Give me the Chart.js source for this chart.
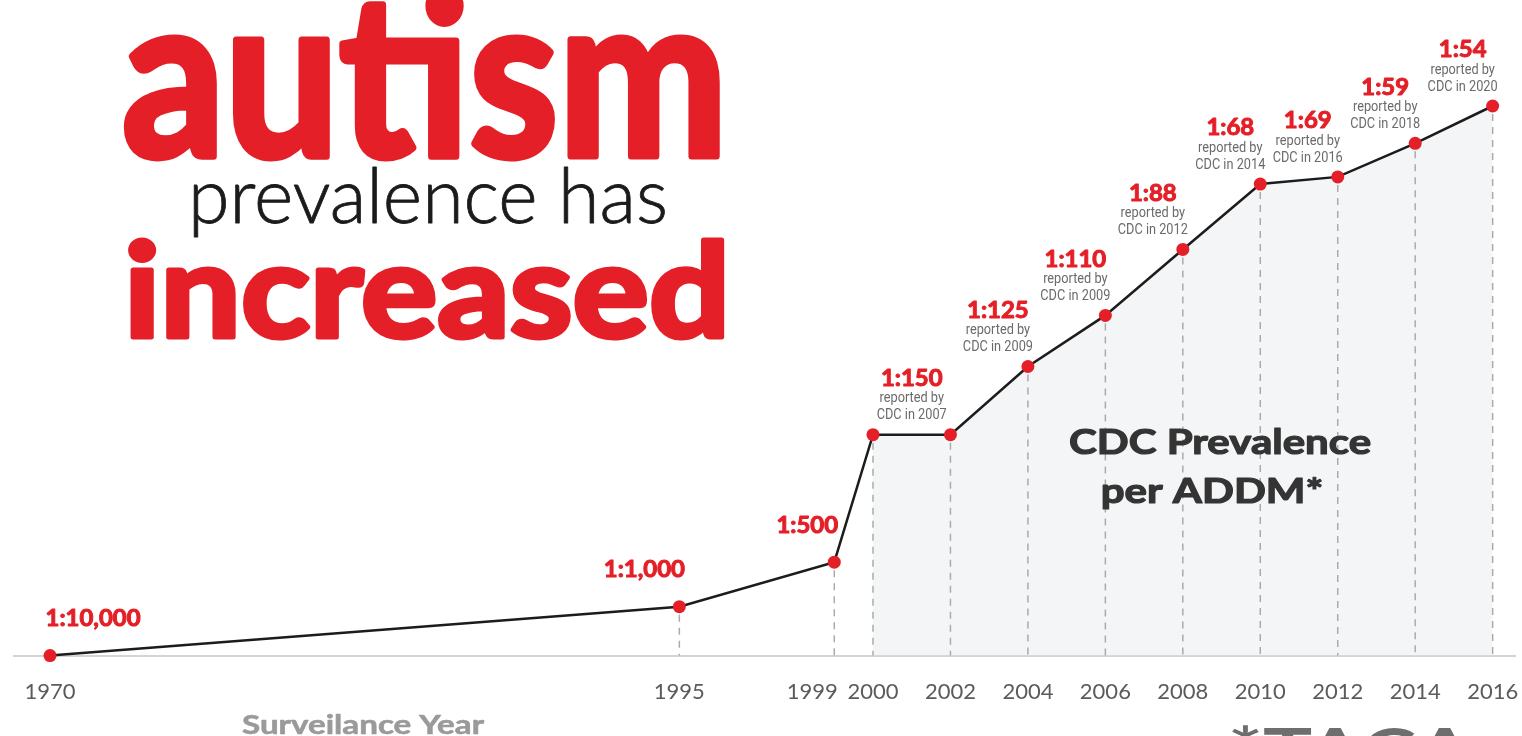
<!DOCTYPE html>
<html>
<head>
<meta charset="utf-8">
<script src="https://cdn.jsdelivr.net/npm/chart.js@4.4.1/dist/chart.umd.min.js"></script>
<style>
  html, body { margin: 0; padding: 0; background: #fff; overflow: hidden; }
  #wrap { width: 1522px; height: 736px; position: relative; }
</style>
</head>
<body>
<div id="wrap"><canvas id="chart" width="1522" height="736"></canvas></div>
<script>
// surveillance years, the CDC ratio for each and the year CDC reported it
const years = [1970, 1995, 1999, 2000, 2002, 2004, 2006, 2008, 2010, 2012, 2014, 2016];
const ratios = ['1:10,000', '1:1,000', '1:500', '1:150', '1:150', '1:125', '1:110', '1:88', '1:68', '1:69', '1:59', '1:54'];
const reportedIn = [null, null, null, 2007, 2007, 2009, 2009, 2012, 2014, 2016, 2018, 2020];
// plotted height of each point (2016 = 100)
const heights = [0, 8.9, 17.0, 40.2, 40.2, 52.6, 61.9, 73.9, 85.8, 87.1, 93.2, 100];

const RED = '#e41f27';

// axis break: the years before 1995 are squeezed
function squeeze(y) {
    return y < 1995 ? 1995 - (1995 - y) * 0.65 : y;
}

const linePoints = years.map((y, i) => ({ x: squeeze(y), y: heights[i] }));
const shaded = linePoints.filter((p, i) => years[i] >= 2000);

// draw text squeezed/stretched to a given width, optionally thickened
function fitText(ctx, text, x, baseline, width, font, color, stroke) {
    ctx.save();
    ctx.font = font;
    const w = ctx.measureText(text).width;
    ctx.translate(x, baseline);
    ctx.scale(width / w, 1);
    ctx.fillStyle = color;
    ctx.textAlign = 'left';
    ctx.textBaseline = 'alphabetic';
    ctx.fillText(text, 0, 0);
    if (stroke) {
        ctx.strokeStyle = color;
        ctx.lineWidth = stroke;
        ctx.lineJoin = 'round';
        ctx.strokeText(text, 0, 0);
    }
    ctx.restore();
}

// dashed drop lines, drawn over the grey fill but under the line
const dropLines = {
    id: 'dropLines',
    afterDatasetDraw(chart, args) {
        if (args.index !== 1) return;
        const ctx = chart.ctx;
        const pts = chart.getDatasetMeta(0).data;
        const base = chart.scales.y.getPixelForValue(0);
        ctx.save();
        ctx.strokeStyle = '#ababab';
        ctx.lineWidth = 1.5;
        ctx.setLineDash([7, 6]);
        pts.forEach((p, i) => {
            if (i === 0) return;
            ctx.beginPath();
            ctx.moveTo(p.x, p.y + 8);
            ctx.lineTo(p.x, base);
            ctx.stroke();
        });
        ctx.restore();
    }
};

// labels shift a little left of their point, the first three sit differently
const labelDx = [43, -35, -27, 0, 0, -30, -30, -30, -30, -30, -30, -30];

function centred(ctx, text, x, y, sx, font, color, stroke) {
    ctx.save();
    ctx.translate(x, y);
    ctx.scale(sx, 1);
    ctx.font = font;
    ctx.textAlign = 'center';
    ctx.textBaseline = 'middle';
    ctx.fillStyle = color;
    ctx.fillText(text, 0, 0);
    if (stroke) {
        ctx.strokeStyle = color;
        ctx.lineWidth = stroke;
        ctx.lineJoin = 'round';
        ctx.strokeText(text, 0, 0);
    }
    ctx.restore();
}

const words = {
    id: 'words',
    afterDraw(chart) {
        const ctx = chart.ctx;
        const pts = chart.getDatasetMeta(0).data;

        // headline
        fitText(ctx, 'autism', 122, 156, 606, 'bold 226px Lato', RED, 7);
        fitText(ctx, 'prevalence has', 188, 223, 480, '300 76px Lato', '#1b1b1b', 0.8);
        fitText(ctx, 'increased', 124, 337, 606, 'bold 130px Lato', RED, 5);

        // ratio labels
        for (let i = 0; i < ratios.length; i++) {
            if (i > 0 && ratios[i] === ratios[i - 1]) continue;
            let j = i;
            while (j + 1 < ratios.length && ratios[j + 1] === ratios[i]) j++;
            const x = (pts[i].x + pts[j].x) / 2 + labelDx[i];
            const y = Math.min(pts[i].y, pts[j].y);
            if (reportedIn[i] === null) {
                centred(ctx, ratios[i], x, y - 37, 1.04, 'bold 23px Lato', RED, 1);
                continue;
            }
            centred(ctx, ratios[i], x, y - 56, 1.04, 'bold 23px Lato', RED, 1);
            centred(ctx, 'reported by', x, y - 36, 0.85, '15px Roboto', '#6b6b6b');
            centred(ctx, 'CDC in ' + reportedIn[i], x, y - 19, 0.85, '15px Roboto', '#6b6b6b');
        }

        // note inside the shaded area
        centred(ctx, 'CDC Prevalence', 1220, 443, 1.2, 'bold 35px Lato', '#343434', 1.2);
        centred(ctx, 'per ADDM*', 1212, 492, 1.2, 'bold 35px Lato', '#343434', 1.2);

        // axis title and the logo peeking in at the bottom
        fitText(ctx, 'Surveilance Year', 242, 734, 242, 'bold 27px Lato', '#9a9a9a', 0.6);
        fitText(ctx, '*TACA', 1228, 772, 245, 'bold 62px Lato', '#6e6e6e');
    }
};

new Chart(document.getElementById('chart'), {
    type: 'line',
    data: {
        datasets: [{
            data: linePoints,
            borderColor: '#1c1c1c',
            borderWidth: 2.5,
            pointRadius: 6.5,
            pointHoverRadius: 6.5,
            pointBackgroundColor: RED,
            pointBorderWidth: 0,
            tension: 0,
            fill: false,
            clip: false,
            order: 1
        }, {
            data: shaded,
            borderWidth: 0,
            pointRadius: 0,
            backgroundColor: '#f4f5f7',
            fill: 'origin',
            tension: 0,
            order: 2
        }]
    },
    options: {
        responsive: false,
        animation: false,
        devicePixelRatio: 1,
        layout: { padding: { left: 14, right: 0, top: 106, bottom: 8 } },
        plugins: { legend: { display: false }, tooltip: { enabled: false } },
        scales: {
            x: {
                type: 'linear',
                min: squeeze(1970) - 0.93,
                max: 2016.59,
                afterBuildTicks: s => { s.ticks = years.map(y => ({ value: squeeze(y) })); },
                afterFit: s => { s.paddingLeft = 0; s.paddingRight = 0; },
                grid: { display: false, drawTicks: false },
                border: { display: true, color: '#d4d4d4', width: 2 },
                ticks: {
                    autoSkip: false,
                    maxRotation: 0,
                    padding: 23,
                    color: '#5b5b5b',
                    font: { family: 'Lato', size: 22 },
                    // 1999 sits tucked to the left of its tick so it clears 2000
                    callback: (v, i) => years[i] === 1999 ? years[i] + '\u2007\u2007\u2007 ' : years[i]
                }
            },
            y: { display: false, min: 0, max: 100 }
        }
    },
    plugins: [dropLines, words]
});
</script>
</body>
</html>
